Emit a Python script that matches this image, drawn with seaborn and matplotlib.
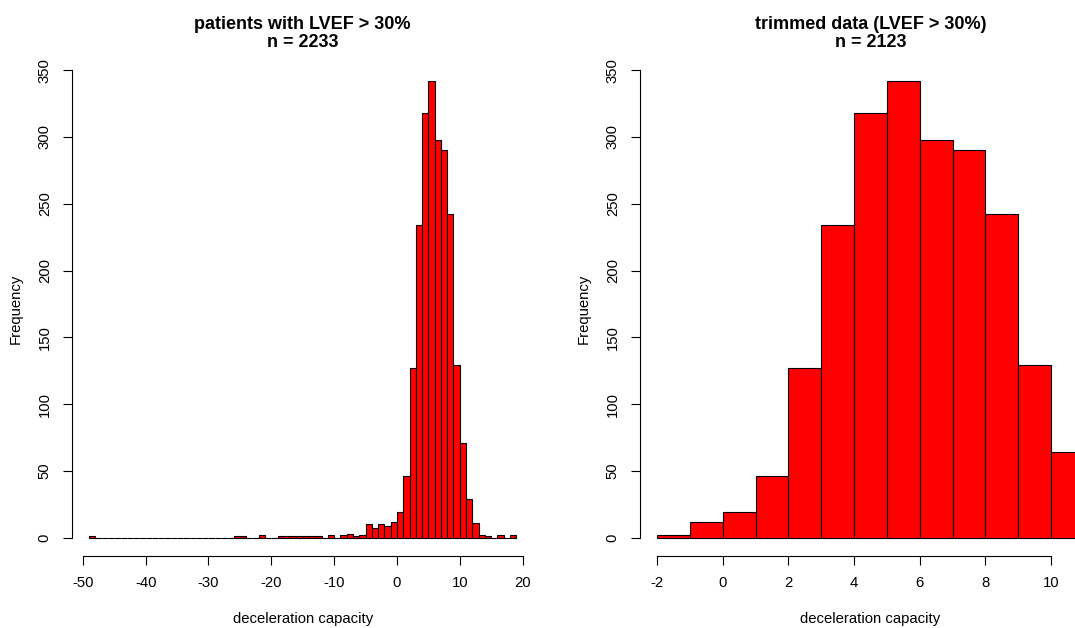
import numpy as np
import matplotlib
matplotlib.use("Agg")
import matplotlib.pyplot as plt
import seaborn as sns

# ---- data ----
left_edges = list(range(-49, 20))  # bins of width 1 from -49 to 19
left_counts_map = {
    -49: 1, -26: 1, -25: 1, -22: 2,
    -19: 1, -18: 1, -17: 1, -16: 1, -15: 1, -14: 1, -13: 1,
    -11: 2, -9: 2, -8: 3, -7: 1, -6: 2,
    -5: 10, -4: 7, -3: 10, -2: 9, -1: 12,
    0: 19, 1: 46, 2: 127, 3: 234, 4: 318, 5: 342, 6: 298, 7: 290,
    8: 242, 9: 129, 10: 71, 11: 29, 12: 11, 13: 2, 14: 1, 16: 2, 18: 2,
}
left_bin_starts = left_edges[:-1]
left_counts = [left_counts_map.get(b, 0) for b in left_bin_starts]

right_edges = list(range(-2, 12))
right_counts = [2, 12, 19, 46, 127, 234, 318, 342, 298, 290, 242, 129, 64]

left_title = "patients with LVEF > 30%\nn = 2233"
right_title = "trimmed data (LVEF > 30%)\nn = 2123"
x_label = "deceleration capacity"
y_label = "Frequency"
left_xticks = [-50, -40, -30, -20, -10, 0, 10, 20]
right_xticks = [-2, 0, 2, 4, 6, 8, 10]
yticks = [0, 50, 100, 150, 200, 250, 300, 350]

# ---- style ----
sns.set_style("ticks")
plt.rcParams["font.family"] = ["Liberation Sans", "DejaVu Sans"]
plt.rcParams["axes.unicode_minus"] = False
plt.rcParams["text.color"] = "black"
plt.rcParams["axes.labelcolor"] = "black"

W, H = 1075, 628
fig = plt.figure(figsize=(W / 100, H / 100), dpi=100)


def px_axes(left, top, right, bottom):
    return fig.add_axes([left / W, (H - bottom) / H, (right - left) / W, (bottom - top) / H])


def draw(ax, edges, starts, counts, xlim, xticks, title):
    sns.histplot(x=starts, weights=counts, bins=edges, stat="count",
                 color="#ff0000", edgecolor="black", linewidth=0.8, alpha=1.0, ax=ax)
    ax.set_xlim(*xlim)
    ax.set_ylim(-13.68, 355.68)
    ax.set_xticks(xticks)
    ax.set_xticklabels([str(v) for v in xticks])
    ax.set_yticks(yticks)
    ax.set_yticklabels([str(v) for v in yticks], rotation=90, va="center")
    for s in ["top", "right"]:
        ax.spines[s].set_visible(False)
    ax.spines["left"].set_bounds(0, 350)
    ax.spines["bottom"].set_bounds(xticks[0], xticks[-1])
    for s in ["left", "bottom"]:
        ax.spines[s].set_linewidth(0.8)
        ax.spines[s].set_color("black")
    ax.tick_params(axis="both", direction="out", length=6.5, width=0.8,
                   colors="black", labelcolor="black", labelsize=10.7, pad=8,
                   bottom=True, left=True)
    ax.set_xlabel(x_label, fontsize=10.7, labelpad=16, color="black")
    ax.set_ylabel(y_label, fontsize=10.7, labelpad=11, color="black")
    ax.set_title(title, fontsize=13, fontweight="bold", pad=11, linespacing=1.1,
                 color="black")
    ax.set_facecolor("white")


ax1 = px_axes(72, 62.5, 533.4, 556)
draw(ax1, left_edges, left_bin_starts, left_counts, (-51.72, 21.72), left_xticks, left_title)

ax2 = px_axes(640, 62.5, 1101, 556)
draw(ax2, right_edges, right_edges[:-1], right_counts, (-2.52, 11.52), right_xticks, right_title)

fig.savefig("out.png", dpi=100, facecolor="white")
